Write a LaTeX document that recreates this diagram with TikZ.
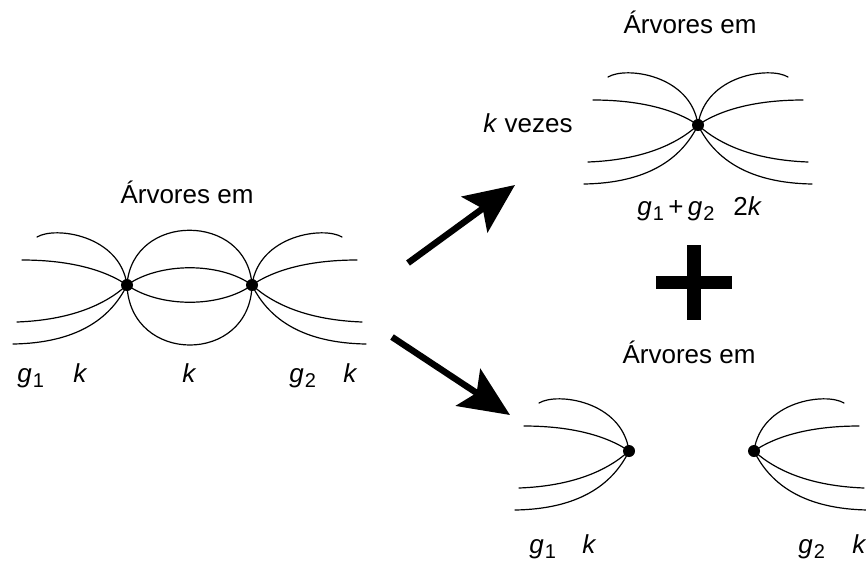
\documentclass[tikz,border=0pt]{standalone}
\usepackage{fontspec}
\setmainfont{Liberation Sans}
\usetikzlibrary{arrows.meta}
\newcommand{\gind}[1]{\textit{g}\kern.5pt\raisebox{-2.8pt}{\fontsize{10}{10}\selectfont #1}}

\begin{document}
\begin{tikzpicture}[x=.5pt,y=-.5pt,line join=round,line cap=round]
	\useasboundingbox (0,0) rectangle (866,563);
	
	\tikzset{
		leque/.pic={
			\draw[line width=.6pt]
			(-90,-48)..controls (-72,-59) and (-7,-50)..(0,0)
			(-105,-25)..controls (-57,-25) and (-22,-15)..(0,0)
			(-110,37)..controls (-57,35) and (-22,20)..(0,0)
			(-114,59)..controls (-52,58) and (-17,35)..(0,0);
		},
		rotulo/.style={inner sep=0pt,anchor=base west,font=\fontsize{13}{15}\selectfont},
		titulo/.style={inner sep=0pt,anchor=base,font=\fontsize{13}{15}\selectfont},
		seta/.style={line width=3.2pt,line cap=butt,-{Stealth[length=25pt,width=22pt,inset=5pt]}}
	}
	
	\path
	(127,285) coordinate (A)
	(252,285) coordinate (B)
	(698,125) coordinate (C)
	(629,451) coordinate (D)
	(754,451) coordinate (E);
	
	% grafo da esquerda
	\draw[line width=.6pt]
	(A)..controls +(5,-73) and +(-5,-73)..(B)
	(A)..controls +(33,-23) and +(-32,-23)..(B)
	(A)..controls +(33,23) and +(-32,23)..(B)
	(A)..controls +(3,80) and +(-2,80)..(B);
	\path (A) pic{leque} (B) pic[xscale=-1]{leque};
	
	% k vezes
	\path (C) pic{leque} (C) pic[xscale=-1]{leque};
	
	% separados
	\path (D) pic{leque} (E) pic[xscale=-1]{leque};
	
	\foreach \v in {A,B,C,D,E}{
		\fill (\v) circle[radius=3pt];
	}
	
	%\draw[red] (0,0) grid[step=50] (866,563);
	
	\node[titulo] (tituloA) at (187,203) {Árvores em};
	\node[titulo] (tituloC) at (690,33) {Árvores em};
	\node[titulo] (tituloD) at (689,363) {Árvores em};
	\node[rotulo] (vezes) at (483,132) {\textit{k} vezes};
	
	\node[rotulo] (gA) at (17,382) {\gind{1}};
	\node[rotulo] (kA) at (73,382) {\textit{k}};
	\node[rotulo] (kAB) at (182,382) {\textit{k}};
	\node[rotulo] (gB) at (289,382) {\gind{2}};
	\node[rotulo] (kB) at (343,382) {\textit{k}};
	
	\node[rotulo] (gC) at (637,215) {\gind{1}\,+\,\gind{2}};
	\node[rotulo] (kC) at (733,215) {2\textit{k}};
	
	\node[rotulo] (gD) at (529,553) {\gind{1}};
	\node[rotulo] (kD) at (582,553) {\textit{k}};
	\node[rotulo] (gE) at (798,553) {\gind{2}};
	\node[rotulo] (kE) at (852,553) {\textit{k}};
	
	% setas
	\path
	(408,263) coordinate (s1a)
	(515,185) coordinate (s1b)
	(392,337) coordinate (s2a)
	(510,415) coordinate (s2b);
	\draw[seta] (s1a)--(s1b);
	\draw[seta] (s2a)--(s2b);
	
	% sinal de mais
	\fill (687,245) rectangle (701,320);
	\fill (656,276) rectangle (732,289);
\end{tikzpicture}
\end{document}
